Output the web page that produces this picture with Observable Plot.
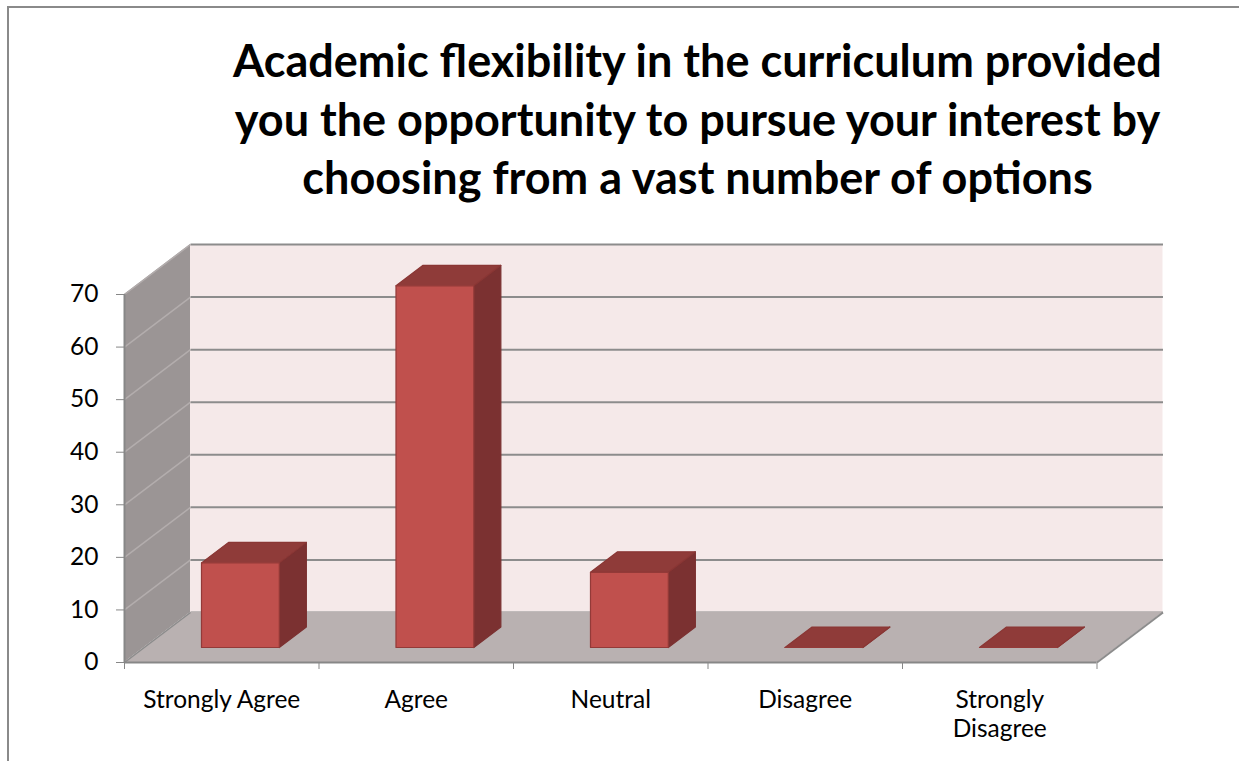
<!DOCTYPE html>
<html><head><meta charset="utf-8">
<script src="https://cdn.jsdelivr.net/npm/d3@7"></script>
<script src="https://cdn.jsdelivr.net/npm/@observablehq/plot@0.6"></script>
<style>
html,body{margin:0;padding:0;background:#fff;overflow:hidden;width:1239px;height:761px;}
#frame{position:absolute;left:7px;top:6px;width:1300px;height:800px;border-left:2px solid #8a8a8a;border-top:2px solid #8a8a8a;}
#title{position:absolute;left:0;top:31px;width:1395px;text-align:center;font-family:Lato,"Open Sans",sans-serif;font-weight:700;font-size:45px;line-height:58.5px;color:#000;}
#chart{position:absolute;left:0;top:225px;}
</style></head>
<body>
<div id="frame"></div>
<div id="title">Academic flexibility in the curriculum provided<br>you the opportunity to pursue your interest by<br>choosing from a vast number of options</div>
<div id="chart"></div>
<script>
const categories = ["Strongly Agree", "Agree", "Neutral", "Disagree", "Strongly Disagree"];
const tickLabels = ["Strongly Agree", "Agree", "Neutral", "Disagree", "Strongly\nDisagree"];
const values = [16.1, 68.8, 14.3, 0, 0];
const yTicks = [0, 10, 20, 30, 40, 50, 60, 70];

// oblique 3D depth, expressed in data units of the x (category) and y (value) scales
const catPx = 194.5, unitPx = 5.257;
const DX = 66 / catPx, DY = 50 / unitPx;
const yMax = yTicks[yTicks.length - 1];
const n = categories.length;
const f1 = 0.29, f2 = 0.70, half = 0.2;

const P = (x, v, d) => ({x: x + d * DX, y: v + d * DY});
const quad = (id, A, B, C, D) => [
  {id, x1: A.x, y1: A.y, x2: D.x, y2: D.y},
  {id, x1: B.x, y1: B.y, x2: C.x, y2: C.y}
];
const seg = (a, b) => ({x1: a.x, y1: a.y, x2: b.x, y2: b.y});

const sideWall = quad("side", P(0, 0, 0), P(0, 0, 1), P(0, yMax, 1), P(0, yMax, 0));
const floor = quad("floor", P(0, 0, 0), P(n, 0, 0), P(n, 0, 1), P(0, 0, 1));
const backGrid = yTicks.map(t => seg(P(0, t, 1), P(n, t, 1)));
const sideGrid = yTicks.map(t => seg(P(0, t, 0), P(0, t, 1)));
const floorEdge = [seg(P(n, 0, 0), P(n, 0, 1))];

const fronts = [], tops = [], sides = [];
values.forEach((v, i) => {
  const xl = i + 0.5 - half, xr = i + 0.5 + half;
  fronts.push(...quad(i, P(xl, 0, f1), P(xr, 0, f1), P(xr, v, f1), P(xl, v, f1)));
  sides.push(...quad(i, P(xr, 0, f1), P(xr, 0, f2), P(xr, v, f2), P(xr, v, f1)));
  tops.push(...quad(i, P(xl, v, f1), P(xr, v, f1), P(xr, v, f2), P(xl, v, f2)));
});

const W = 1239, H = 536;
const mL = 124, mB = 99;
const mR = W - mL - catPx * (n + DX);
const mT = H - mB - unitPx * (yMax + DY);

const area = (data, fill, stroke) => Plot.area(data, {x1: "x1", y1: "y1", x2: "x2", y2: "y2", z: "id", fill, stroke, strokeWidth: stroke ? 1.2 : 0, curve: "linear"});
const link = (data, stroke, strokeWidth) => Plot.link(data, {x1: "x1", y1: "y1", x2: "x2", y2: "y2", stroke, strokeWidth});

const chart = Plot.plot({
  width: W, height: H,
  marginLeft: mL, marginRight: mR, marginTop: mT, marginBottom: mB,
  style: {fontFamily: "Lato, 'Open Sans', sans-serif", background: "transparent", color: "#000"},
  x: {type: "linear", domain: [0, n + DX]},
  y: {type: "linear", domain: [0, yMax + DY]},
  marks: [
    Plot.rect([0], {x1: () => DX, x2: () => n + DX, y1: () => DY, y2: () => yMax + DY, fill: "#f5e9e9"}),
    link(backGrid, "#8c8c8c", 2),
    area(sideWall, "#9b9595"),
    link(sideGrid, "#b3adad", 1.5),
    area(floor, "#b9b1b1"),
    link(sideGrid.slice(0, 1), "#8c8c8c", 1.5),
    link(floorEdge, "#8c8c8c", 2),
    area(sides, "#7b3131", "#7b3131"),
    area(tops, "#8f3b39", "#8a3634"),
    area(fronts, "#c0504d", "#933a38"),
    Plot.ruleY([0], {x1: 0, x2: n, stroke: "#878787", strokeWidth: 2}),
    Plot.ruleX([0], {y1: 0, y2: yMax, stroke: "#878787", strokeWidth: 2}),
    Plot.axisY({ticks: yTicks, tickSize: 8, tickPadding: 18, fontSize: 24.5, stroke: "#878787", label: null, tickFormat: d => String(d)}),
    Plot.axisX({ticks: d3.range(n + 1), tickSize: 7, tickFormat: () => "", stroke: "#878787", label: null}),
    Plot.axisX({ticks: categories.map((_, i) => i + 0.5), tickFormat: d => tickLabels[Math.floor(d)], tickSize: 0, tickPadding: 25, fontSize: 24.5, lineHeight: 1.18, label: null})
  ]
});
document.getElementById("chart").appendChild(chart);
</script>
</body></html>
